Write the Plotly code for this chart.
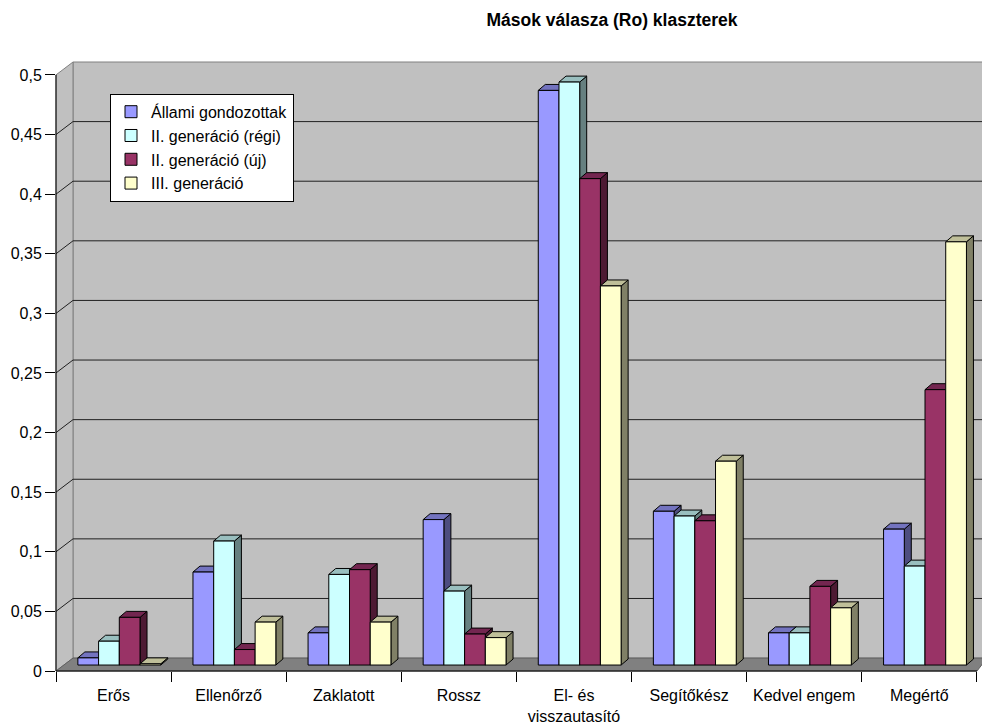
import plotly.graph_objects as go

# ---------------- data ----------------
categories = ["Erős", "Ellenőrző", "Zaklatott", "Rossz", "El- és<br>visszautasító",
              "Segítőkész", "Kedvel engem", "Megértő"]
series_names = ["Állami gondozottak", "II. generáció (régi)", "II. generáció (új)", "III. generáció"]
allami = [0.006, 0.078, 0.027, 0.122, 0.482, 0.129, 0.027, 0.114]
regi = [0.020, 0.104, 0.076, 0.062, 0.489, 0.125, 0.027, 0.083]
uj = [0.040, 0.013, 0.080, 0.026, 0.408, 0.121, 0.066, 0.231]
harmadik = [0.001, 0.036, 0.036, 0.023, 0.318, 0.171, 0.048, 0.355]
y_tickvals = [0, 0.05, 0.1, 0.15, 0.2, 0.25, 0.3, 0.35, 0.4, 0.45, 0.5]
y_ticktext = ["0", "0,05", "0,1", "0,15", "0,2", "0,25", "0,3", "0,35", "0,4", "0,45", "0,5"]

series_values = [allami, regi, uj, harmadik]

# ---------------- styles ----------------
front_colors = ["#9999FF", "#CCFFFF", "#993366", "#FFFFCC"]
side_colors = ["#4D4D80", "#668080", "#4D1A33", "#808066"]
top_colors = ["#7373BF", "#99BFBF", "#732650", "#BFBF99"]
FONT = "Liberation Sans, Arial, sans-serif"

W_FIG, H_FIG = 982, 726
L, R_MARG, T, B_MARG = 56, 1, 62, 51
PW = W_FIG - L - R_MARG
PH = H_FIG - T - B_MARG
BOTTOM = H_FIG - B_MARG           # pixel row of the front axis line
PX_PER_X = 115.1                  # pixels per category
PX_PER_Y = 1200.0                 # pixels per value unit

x_range = [-0.5, -0.5 + PW / PX_PER_X]
bar_shift = 6 / PX_PER_Y          # bars stand in the middle of the floor (6 px behind the front edge)
y_range = [-bar_shift, -bar_shift + PH / PX_PER_Y]
# front-wall ticks sit 6 px lower than the bar baseline
tick_pos = [v - bar_shift for v in y_tickvals]

bar_w = 0.18
group_shift = 0.05
dx = 7 / PX_PER_X
dy = 6 / PX_PER_Y


def px(xp, yp):
    return (xp - L) / PW, (BOTTOM - yp) / PH


def path(points):
    pts = [px(a, b) for a, b in points]
    return "M " + " L ".join(f"{a:.5f},{b:.5f}" for a, b in pts) + " Z"


fig = go.Figure()

x_idx = list(range(len(categories)))
for j, (name, vals) in enumerate(zip(series_names, series_values)):
    off = group_shift - 2 * bar_w + j * bar_w
    sx, sy, tx, ty = [], [], [], []
    for i, v in zip(x_idx, vals):
        xl = i + off
        xr = xl + bar_w
        sx += [xr, xr + dx, xr + dx, xr, xr, None]
        sy += [0, dy, v + dy, v, 0, None]
        tx += [xl, xl + dx, xr + dx, xr, xl, None]
        ty += [v, v + dy, v + dy, v, v, None]
    fig.add_trace(go.Scatter(x=sx, y=sy, mode="lines", fill="toself", fillcolor=side_colors[j],
                             line=dict(color="black", width=1), showlegend=False,
                             hoverinfo="skip", zorder=2 * j))
    fig.add_trace(go.Scatter(x=tx, y=ty, mode="lines", fill="toself", fillcolor=top_colors[j],
                             line=dict(color="black", width=1), showlegend=False,
                             hoverinfo="skip", zorder=2 * j))
    fig.add_trace(go.Bar(x=x_idx, y=vals, width=bar_w, offset=off, name=name,
                         marker=dict(color=front_colors[j], line=dict(color="black", width=1)),
                         zorder=2 * j + 1, legendgroup=f"g{j}"))

# ---------------- 3D frame (walls, floor, gridlines) ----------------
shapes = []
BACK_L = 73
BACK_BOTTOM = BOTTOM - 13
RIGHT = W_FIG + 5
shapes.append(dict(type="path", xref="paper", yref="paper", layer="below",
                   path=path([(BACK_L, T), (RIGHT, T), (RIGHT, BACK_BOTTOM), (BACK_L, BACK_BOTTOM)]),
                   fillcolor="#C0C0C0", line=dict(color="#808080", width=1)))
shapes.append(dict(type="path", xref="paper", yref="paper", layer="below",
                   path=path([(L, BOTTOM), (BACK_L, BACK_BOTTOM), (BACK_L, T), (L, BOTTOM - 0.5 * PX_PER_Y)]),
                   fillcolor="#C0C0C0", line=dict(color="#808080", width=1)))
shapes.append(dict(type="path", xref="paper", yref="paper", layer="below",
                   path=path([(L, BOTTOM), (BACK_L, BACK_BOTTOM), (RIGHT, BACK_BOTTOM), (977, BOTTOM)]),
                   fillcolor="#808080", line=dict(color="#606060", width=1)))
for v in y_tickvals[1:-1]:
    yb = BACK_BOTTOM - v * PX_PER_Y
    yf = BOTTOM - v * PX_PER_Y
    x0, y0 = px(BACK_L, yb)
    x1, _ = px(RIGHT, yb)
    shapes.append(dict(type="line", xref="paper", yref="paper", layer="below",
                       x0=x0, y0=y0, x1=x1, y1=y0, line=dict(color="#202020", width=1)))
    fx, fy = px(L, yf)
    shapes.append(dict(type="line", xref="paper", yref="paper", layer="below",
                       x0=fx, y0=fy, x1=x0, y1=y0, line=dict(color="#202020", width=1)))
# front value axis line
ax0 = px(L, BOTTOM)
ax1 = px(L, BOTTOM - 0.5 * PX_PER_Y)
shapes.append(dict(type="line", xref="paper", yref="paper", layer="above",
                   x0=ax0[0], y0=ax0[1], x1=ax1[0], y1=ax1[1], line=dict(color="black", width=1)))

lx, ly = px(110, 94)

fig.update_layout(
    width=W_FIG, height=H_FIG,
    margin=dict(l=L, r=R_MARG, t=T, b=B_MARG),
    paper_bgcolor="white", plot_bgcolor="white",
    font=dict(family=FONT, size=16, color="black"),
    title=dict(text="<b>Mások válasza (Ro) klaszterek</b>", xref="container", x=612 / W_FIG,
               xanchor="center", yref="container", y=1 - 20 / H_FIG, yanchor="middle",
               font=dict(family=FONT, size=17.5, color="black")),
    barmode="overlay",
    hovermode=False,
    showlegend=True,
    legend=dict(x=lx, y=ly, xanchor="left", yanchor="top", bgcolor="white",
                bordercolor="black", borderwidth=1, font=dict(family=FONT, size=16),
                tracegroupgap=0, itemwidth=30),
    xaxis=dict(range=x_range, tickmode="array", tickvals=x_idx, ticktext=categories,
               ticks="", showgrid=False, zeroline=False, showline=False,
               ticklabelstandoff=13,
               minor=dict(tickmode="array", tickvals=[i + 0.5 for i in range(-1, len(categories))],
                          ticks="outside", ticklen=10, tickcolor="black", showgrid=False)),
    yaxis=dict(range=y_range, tickmode="array", tickvals=tick_pos, ticktext=y_ticktext,
               ticks="outside", ticklen=10, tickcolor="black", showgrid=False, zeroline=False,
               showline=False),
    shapes=shapes,
)
# horizontal category axis line along the front floor edge
fig.add_shape(type="line", xref="paper", yref="paper", layer="above",
              x0=px(L, BOTTOM)[0], y0=0, x1=px(977, BOTTOM)[0], y1=0,
              line=dict(color="black", width=1))

fig.write_html("out.html", config={"displayModeBar": False},
               post_script="document.body.style.margin='0';document.body.style.overflow='hidden';")
